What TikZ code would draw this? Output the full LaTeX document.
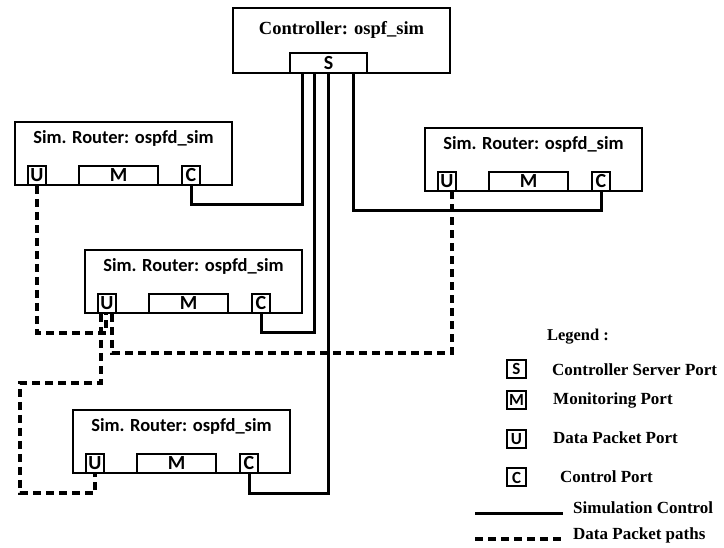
\documentclass[tikz,border=0pt]{standalone}
\usepackage{fontspec}
\setmainfont{Liberation Serif}
\newfontfamily\calfont{Carlito}
\usetikzlibrary{calc}

\tikzset{
  rbox/.style={draw, line width=2pt, minimum width=217pt, minimum height=63pt, inner sep=0pt},
  rtitle/.style={font=\calfont\bfseries\fontsize{18.5}{20}\selectfont, inner sep=0pt},
  port/.style={draw, line width=2pt, minimum width=18pt, minimum height=19pt, inner sep=0pt,
    font=\calfont\bfseries\fontsize{20}{20}\selectfont},
  lport/.style={port, minimum width=19pt, minimum height=18pt, font=\calfont\bfseries\fontsize{17}{17}\selectfont},
  ltext/.style={anchor=west, inner sep=0pt, font=\bfseries\fontsize{17}{19}\selectfont},
  ctl/.style={line width=3pt},
  dpath/.style={line width=3.2pt, dash pattern=on 8pt off 5pt}
}

% router box with its three ports
\newcommand{\simrouter}[3]{%
  \node[rbox, anchor=south west] (#1) at (#2,#3) {};
  \node[rtitle] (#1t) at ($(#1.north)+(0,17)$) {Sim. Router: ospfd\_sim};
  \node[port, anchor=south west] (#1u) at ($(#1.south west)+(13,0)$) {U};
  \node[port, anchor=south west, minimum width=79pt] (#1m) at ($(#1.south west)+(64,0)$) {M};
  \node[port, anchor=south west] (#1c) at ($(#1.south west)+(167,0)$) {C};
}

\begin{document}
\begin{tikzpicture}[x=1pt,y=-1pt]
  \useasboundingbox (0,0) rectangle (724,548);

  % controller
  \node[rbox, minimum height=65pt, anchor=north west] (ctrl) at (232,7) {};
  \node[inner sep=0pt, font=\bfseries\fontsize{18.5}{20}\selectfont] (ctrlt) at ($(ctrl.north)+(0,23)$) {Controller: ospf\_sim};
  \node[port, anchor=south west, minimum width=77pt, minimum height=20pt] (s) at ($(ctrl.south west)+(57,0)$) {S};

  % routers
  \simrouter{ra}{14}{186}
  \simrouter{rb}{424}{192}
  \simrouter{rc}{84}{314}
  \simrouter{rd}{72}{474}

  % simulation control
  \coordinate (k1) at (302,205);
  \coordinate (k2) at (353,211);
  \coordinate (k3) at (314,333);
  \coordinate (k4) at (328,493);
  \draw[ctl] (rac.south) |- (k1) -- (k1 |- s.south);
  \draw[ctl] (rbc.south) |- (k2) -- (k2 |- s.south);
  \draw[ctl] (rcc.south) |- (k3) -- (k3 |- s.south);
  \draw[ctl] (rdc.south) |- (k4) -- (k4 |- s.south);

  % data packet paths
  \coordinate (d1) at (106,333);
  \coordinate (d2a) at (112,353);
  \coordinate (d2b) at (452,353);
  \coordinate (d3a) at (101,383);
  \coordinate (d3b) at (20,493);
  \draw[dpath] (rau.south) |- (d1) -- (d1 |- rcu.south);
  \draw[dpath] (d2a |- rcu.south) -- (d2a) -- (d2b) -- (d2b |- rbu.south);
  \draw[dpath] (d3a |- rcu.south) -- (d3a) -| (d3b) -| (rdu.south);

  % legend
  \node[inner sep=0pt, font=\bfseries\fontsize{16.5}{18}\selectfont] (leg) at (578,337) {Legend :};
  \node[lport] (ls) at (516.5,369) {S};
  \node[lport] (lm) at (516.5,400) {M};
  \node[lport] (lu) at (516.5,439) {U};
  \node[lport] (lc) at (516.5,477.5) {C};
  \node[ltext] (lst) at (552,370) {Controller Server Port};
  \node[ltext] (lmt) at (553,400) {Monitoring Port};
  \node[ltext] (lut) at (553,438) {Data Packet Port};
  \node[ltext] (lct) at (560,477) {Control Port};
  \coordinate (la) at (475,513);
  \coordinate (lb) at (475,539);
  \node[ltext] (lsc) at (573,508) {Simulation Control};
  \node[ltext] (ldp) at (573,535) {Data Packet paths};
  \draw[ctl] (la) -- ($(la -| lsc.west)+(-10,0)$);
  \draw[dpath] (lb) -- ($(lb -| ldp.west)+(-10,0)$);
\end{tikzpicture}
\end{document}
